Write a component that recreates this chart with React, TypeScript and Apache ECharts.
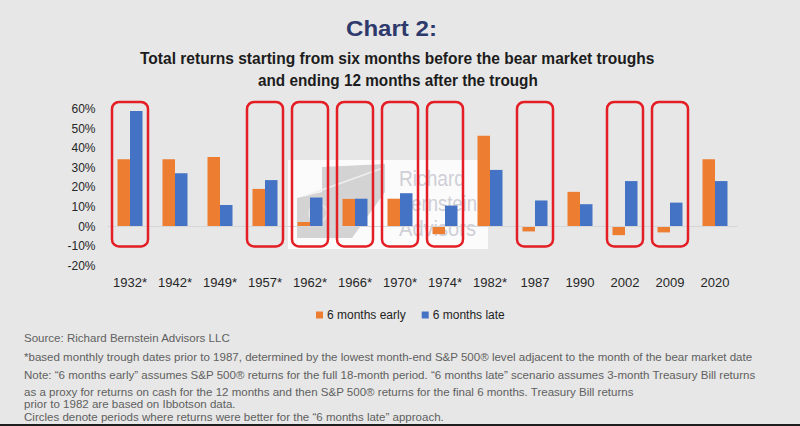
import React, { useEffect, useRef } from "react";
import * as echarts from "echarts";

const categories = ["1932*", "1942*", "1949*", "1957*", "1962*", "1966*", "1970*", "1974*", "1982*", "1987", "1990", "2002", "2009", "2020"];
const earlyValues = [34.4, 34.4, 35.5, 19.2, 2.3, 14.1, 14.2, -3.9, 46.3, -2.5, 17.7, -4.4, -3.0, 34.4];
const lateValues = [59.0, 27.2, 11.0, 23.7, 14.8, 14.2, 17.0, 10.7, 28.9, 13.3, 11.4, 23.2, 12.2, 23.2];
const circledCategories = ["1932*", "1957*", "1962*", "1966*", "1970*", "1974*", "1987", "2002", "2009"];
const seriesNames = ["6 months early", "6 months late"];
const yMin = -20;
const yMax = 60;
const yInterval = 10;
const circleTop = 63.6;
const circleBottom = -10.2;

const titleText = "Chart 2:";
const subtitleLines = [
  "Total returns starting from six months before the bear market troughs",
  "and ending 12 months after the trough",
];
const footnoteLines = [
  "Source: Richard Bernstein Advisors LLC",
  "*based monthly trough dates prior to 1987, determined by the lowest month-end S&P 500\u00AE level adjacent to the month of the bear market date",
  "Note: \u201C6 months early\u201D assumes S&P 500\u00AE returns for the full 18-month period. \u201C6 months late\u201D scenario assumes 3-month Treasury Bill returns",
  "as a proxy for returns on cash for the 12 months and then S&P 500\u00AE returns for the final 6 months. Treasury Bill returns",
  "prior to 1982 are based on Ibbotson data.",
  "Circles denote periods where returns were better for the \u201C6 months late\u201D approach.",
];
const watermarkLines = ["Richard", "Bernstein", "Advisors"];

function measure(text: string, font: string): number {
  const c = document.createElement("canvas").getContext("2d");
  if (!c) return text.length * 6;
  c.font = font;
  return c.measureText(text).width || text.length * 6;
}

export default function App() {
  const ref = useRef<HTMLDivElement>(null);

  useEffect(() => {
    document.body.style.margin = "0";
    if (!ref.current) return;
    const chart = echarts.init(ref.current, null, { renderer: "svg" });

    const titleFont = "bold 22px 'Liberation Sans', Arial, sans-serif";
    const subFont = "bold 17px 'Liberation Sans', Arial, sans-serif";
    const wmFont = "22px 'Liberation Sans', Arial, sans-serif";
    const fnFamily = "'Liberation Sans', Arial, sans-serif";
    const fnSize = (11 * 729) / measure(footnoteLines[1], "11px " + fnFamily);

    const titleElems: any[] = [
      {
        type: "text",
        x: 346,
        y: 28,
        scaleX: 91 / measure(titleText, titleFont),
        z: 100,
        style: { text: titleText, font: titleFont, fill: "#2E3A6C", textAlign: "left", textVerticalAlign: "middle" },
      },
      {
        type: "text",
        x: 140,
        y: 57.5,
        scaleX: 515 / measure(subtitleLines[0], subFont),
        z: 100,
        style: { text: subtitleLines[0], font: subFont, fill: "#1C1C1C", textAlign: "left", textVerticalAlign: "middle" },
      },
      {
        type: "text",
        x: 258,
        y: 80,
        scaleX: 280 / measure(subtitleLines[1], subFont),
        z: 100,
        style: { text: subtitleLines[1], font: subFont, fill: "#1C1C1C", textAlign: "left", textVerticalAlign: "middle" },
      },
    ];

    const fnY = [338, 357, 374.5, 391.5, 404.3, 416.5];
    const footElems: any[] = footnoteLines.map((t, i) => ({
      type: "text",
      x: 24,
      y: fnY[i],
      z: 100,
      style: { text: t, font: `${fnSize.toFixed(2)}px ${fnFamily}`, fill: "#606060", textAlign: "left", textVerticalAlign: "middle" },
    }));

    const wmX = [399, 399, 399];
    const wmY = [178, 203, 228];
    const wmW = [66, 78, 77];
    const watermark: any[] = [
      { type: "rect", z: 0, shape: { x: 288, y: 160, width: 200, height: 89 }, style: { fill: "#FBFBFB" } },
      {
        type: "polygon",
        z: 0,
        shape: { points: [[322, 167], [385, 164], [385, 192], [352, 238], [297, 238], [297, 198], [322, 192]] },
        style: { fill: "#D3D3D3" },
      },
      { type: "line", z: 0, shape: { x1: 305, y1: 196, x2: 383, y2: 168 }, style: { stroke: "#EFEFEF", lineWidth: 1.5 } },
      { type: "circle", z: 0, shape: { cx: 318, cy: 213, r: 9 }, style: { fill: "none", stroke: "#EAEAEA", lineWidth: 1.2 } },
      ...watermarkLines.map((t, i) => ({
        type: "text",
        x: wmX[i],
        y: wmY[i],
        z: 0,
        scaleX: wmW[i] / measure(t, wmFont),
        style: { text: t, font: wmFont, fill: "#CFCFD7", textAlign: "left", textVerticalAlign: "middle" },
      })),
    ];

    const bottomBar: any = { type: "rect", z: 100, shape: { x: 0, y: 424, width: 800, height: 2 }, style: { fill: "#1E1E1E" } };

    const circleData = circledCategories.map((c) => [categories.indexOf(c), circleTop, circleBottom]);

    const option: any = {
      animation: false,
      backgroundColor: "#E7E7E7",
      textStyle: { fontFamily: "'Liberation Sans', Arial, sans-serif" },
      grid: { left: 107.5, right: 62.5, top: 109, bottom: 160.3, containLabel: false },
      legend: {
        data: seriesNames,
        left: 311,
        top: 304,
        itemWidth: 7,
        itemHeight: 7,
        itemGap: 16,
        icon: "rect",
        textStyle: { fontSize: 12, color: "#1E1E1E", padding: [0, 0, 0, -1] },
      },
      xAxis: {
        type: "category",
        data: categories,
        axisLine: { show: false },
        axisTick: { show: false },
        axisLabel: { fontSize: 13, color: "#262626", margin: 10, interval: 0 },
      },
      yAxis: {
        type: "value",
        min: yMin,
        max: yMax,
        interval: yInterval,
        axisLine: { show: false },
        axisTick: { show: false },
        splitLine: { show: false },
        axisLabel: { fontSize: 12, color: "#262626", margin: 12, formatter: "{value}%" },
      },
      graphic: [...watermark, ...titleElems, ...footElems, bottomBar],
      series: [
        {
          name: seriesNames[0],
          type: "bar",
          data: earlyValues,
          barWidth: 12.5,
          barGap: "0%",
          itemStyle: { color: "#ED7D31" },
          markLine: {
            silent: true,
            symbol: "none",
            label: { show: false },
            lineStyle: { color: "#D6D6D6", width: 1, type: "solid" },
            data: [{ yAxis: 0 }],
          },
        },
        {
          name: seriesNames[1],
          type: "bar",
          data: lateValues,
          barWidth: 12.5,
          barGap: "0%",
          itemStyle: { color: "#4472C4" },
        },
        {
          type: "custom",
          name: "circles",
          clip: false,
          silent: true,
          z: 5,
          encode: { x: 0, y: [1, 2] },
          data: circleData,
          renderItem: (params: any, api: any) => {
            const idx = api.value(0);
            const top = api.coord([idx, api.value(1)]);
            const bot = api.coord([idx, api.value(2)]);
            const w = api.size([1, 0])[0] * 0.8;
            return {
              type: "rect",
              shape: { x: top[0] - w / 2, y: top[1], width: w, height: bot[1] - top[1], r: 7 },
              style: { fill: "none", stroke: "#E41E25", lineWidth: 2.5 },
            };
          },
        },
      ],
    };

    chart.setOption(option);
    return () => chart.dispose();
  }, []);

  return <div ref={ref} style={{ width: 800, height: 426 }} />;
}
